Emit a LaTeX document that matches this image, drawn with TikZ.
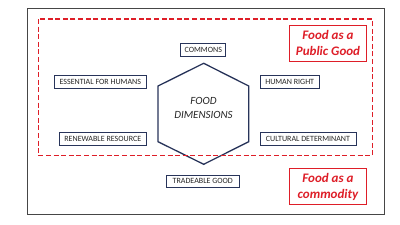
\documentclass[tikz,border=0pt]{standalone}
\usepackage{fontspec}
\setmainfont{Carlito}
\begin{document}
\begin{tikzpicture}[x=1pt,y=-1pt,
  dimbox/.style={draw=navyc,line width=0.9pt,fill=white,inner sep=0pt,minimum height=12.7pt,font=\fontsize{8}{9}\selectfont,text=black!85},
  redbox/.style={draw=redc,line width=0.8pt,fill=white,inner sep=0pt,minimum width=77pt,minimum height=36pt,align=center,text=redc,font=\fontsize{13}{15.7}\selectfont\bfseries\itshape}]
\definecolor{navyc}{RGB}{40,52,90}
\definecolor{redc}{RGB}{222,30,40}
\definecolor{framec}{RGB}{70,70,70}
\useasboundingbox (0,0) rectangle (400,225);
\fill[white] (0,0) rectangle (400,225);
\draw[framec,line width=0.9pt] (27.3,8.3) rectangle (384,214.3);
% hexagon
\coordinate (h1) at (203.7,63.3);
\coordinate (h2) at (248.7,86);
\coordinate (h3) at (248.7,141.7);
\coordinate (h4) at (203.7,164.3);
\coordinate (h5) at (158,141.7);
\coordinate (h6) at (158,86);
\draw[navyc,line width=1.3pt,line join=miter] (h1)--(h2)--(h3)--(h4)--(h5)--(h6)--cycle;
\node[align=center,font=\fontsize{11}{14.3}\selectfont\itshape,text=black!85] (fd) at (203.5,108) {FOOD\\DIMENSIONS};
% dashed red region
\draw[redc,line width=1.4pt,dash pattern=on 5pt off 2.6pt] (38.3,19) rectangle (372.3,155.7);
% boxes
\node[dimbox,minimum width=45pt] (commons) at (203.3,49.7) {COMMONS};
\node[dimbox,minimum width=92pt] (ess) at (100.3,81.8) {ESSENTIAL FOR HUMANS};
\node[dimbox,minimum width=59.3pt] (hr) at (289.7,81.8) {HUMAN RIGHT};
\node[dimbox,minimum width=87pt] (ren) at (102.8,138.8) {RENEWABLE RESOURCE};
\node[dimbox,minimum width=96pt] (cult) at (308,138.8) {CULTURAL DETERMINANT};
\node[dimbox,minimum width=73pt] (trade) at (202.8,181.3) {TRADEABLE GOOD};
\node[redbox] (pub) at (328,43) {Food as a\\Public Good};
\node[redbox] (com) at (328,186.8) {Food as a\\commodity};
\end{tikzpicture}
\end{document}
